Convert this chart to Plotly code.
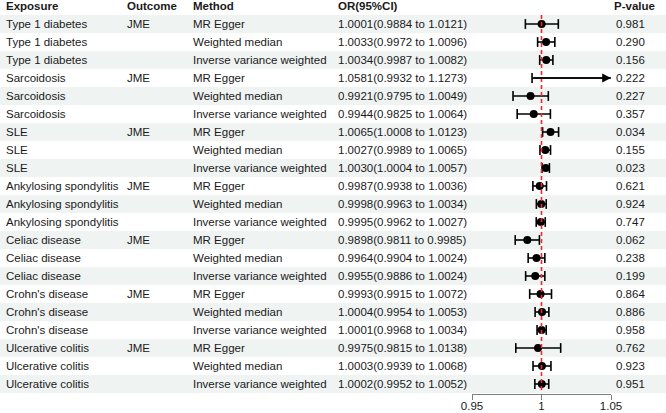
import plotly.graph_objects as go

W, H = 666, 413

exposure = (["Type 1 diabetes"] * 3 + ["Sarcoidosis"] * 3 + ["SLE"] * 3 +
            ["Ankylosing spondylitis"] * 3 + ["Celiac disease"] * 3 +
            ["Crohn's disease"] * 3 + ["Ulcerative colitis"] * 3)
outcome = ["JME", "", ""] * 7
method = ["MR Egger", "Weighted median", "Inverse variance weighted"] * 7
or_val = [1.0001, 1.0033, 1.0034, 1.0581, 0.9921, 0.9944, 1.0065, 1.0027, 1.0030,
          0.9987, 0.9998, 0.9995, 0.9898, 0.9964, 0.9955, 0.9993, 1.0004, 1.0001,
          0.9975, 1.0003, 1.0002]
ci_lo = [0.9884, 0.9972, 0.9987, 0.9932, 0.9795, 0.9825, 1.0008, 0.9989, 1.0004,
         0.9938, 0.9963, 0.9962, 0.9811, 0.9904, 0.9886, 0.9915, 0.9954, 0.9968,
         0.9815, 0.9939, 0.9952]
ci_hi = [1.0121, 1.0096, 1.0082, 1.1273, 1.0049, 1.0064, 1.0123, 1.0065, 1.0057,
         1.0036, 1.0034, 1.0027, 0.9985, 1.0024, 1.0024, 1.0072, 1.0053, 1.0034,
         1.0138, 1.0068, 1.0052]
pval = ["0.981", "0.290", "0.156", "0.222", "0.227", "0.357", "0.034", "0.155",
        "0.023", "0.621", "0.924", "0.747", "0.062", "0.238", "0.199", "0.864",
        "0.886", "0.958", "0.762", "0.923", "0.951"]
headers = ["Exposure", "Outcome", "Method", "OR(95%CI)", "P-value"]
x_ticks = [0.95, 1.0, 1.05]
x_ticktext = ["0.95", "1", "1.05"]
x_min, x_max = 0.95, 1.05

n = len(or_val)
rows = list(range(1, n + 1))
ci_text = [f"{o:.4f}({l:.4f} to {h:.4f})" for o, l, h in zip(or_val, ci_lo, ci_hi)]

FONT = "Liberation Sans, Arial, sans-serif"
FS = 11.5
TXT = "#1a1a1a"

# pixel layout
axis_px = 394
row_px0, row_h = 6, 18
y_top = (0 - row_px0) / row_h
y_bot = (axis_px - row_px0) / row_h
col_px = [4, 125, 191, 336, 612]

fig = go.Figure()

# CI lines (clipped to axis range; arrow for overflow)
lx, ly = [], []
for r, l, h in zip(rows, ci_lo, ci_hi):
    lx += [max(l, x_min), min(h, x_max), None]
    ly += [r, r, None]
fig.add_trace(go.Scatter(x=lx, y=ly, mode="lines",
                         line=dict(color="black", width=1.6),
                         hoverinfo="skip", showlegend=False))

# caps
cx, cy = [], []
for r, l, h in zip(rows, ci_lo, ci_hi):
    if l >= x_min:
        cx.append(l); cy.append(r)
    if h <= x_max:
        cx.append(h); cy.append(r)
fig.add_trace(go.Scatter(x=cx, y=cy, mode="markers",
                         marker=dict(symbol="line-ns", size=7,
                                     line=dict(color="black", width=1.6)),
                         hoverinfo="skip", showlegend=False))

# points
fig.add_trace(go.Scatter(x=or_val, y=rows, mode="markers",
                         marker=dict(symbol="circle", size=8, color="black"),
                         showlegend=False))

shapes = []
# alternating row bands
for r in rows:
    if r % 2 == 1:
        shapes.append(dict(type="rect", xref="paper", yref="y", x0=0, x1=1,
                           y0=r - 0.5, y1=r + 0.5, fillcolor="#eff3f2",
                           line=dict(width=0), layer="below"))
# reference line
shapes.append(dict(type="line", xref="x", yref="y", x0=1, x1=1,
                   y0=0.5, y1=n + 0.5,
                   line=dict(color="#ee2a2a", width=1.6, dash="4px,3px"),
                   layer="above"))

annotations = []
for c, htxt in enumerate(headers):
    annotations.append(dict(x=col_px[c] / W, y=0, xref="paper", yref="y",
                            text=f"<b>{htxt}</b>", showarrow=False,
                            xanchor="left", yanchor="middle",
                            font=dict(family=FONT, size=FS, color=TXT)))
cols = [exposure, outcome, method, ci_text, pval]
for c, col in enumerate(cols):
    for r, t in zip(rows, col):
        if t == "":
            continue
        xp = col_px[c] + (2 if c == 4 else 0)
        annotations.append(dict(x=xp / W, y=r, xref="paper", yref="y",
                                text=t, showarrow=False,
                                xanchor="left", yanchor="middle",
                                font=dict(family=FONT, size=FS, color=TXT)))

# overflow arrows
for r, l, h in zip(rows, ci_lo, ci_hi):
    if h > x_max:
        annotations.append(dict(x=x_max, y=r, xref="x", yref="y",
                                ax=max(l, x_min), ay=r, axref="x", ayref="y",
                                text="", showarrow=True, arrowhead=2,
                                arrowsize=1.1, arrowwidth=1.6,
                                arrowcolor="black", standoff=0))

fig.update_layout(
    width=W, height=H,
    margin=dict(l=0, r=0, t=0, b=0, pad=0, autoexpand=False),
    paper_bgcolor="white", plot_bgcolor="rgba(0,0,0,0)",
    shapes=shapes, annotations=annotations,
    xaxis=dict(domain=[472 / W, 611 / W], range=[x_min, x_max],
               tickvals=x_ticks, ticktext=x_ticktext,
               showline=True, linecolor="#7f7f7f", linewidth=1,
               ticks="outside", ticklen=5, tickcolor="#7f7f7f", tickwidth=1,
               ticklabelstandoff=-4,
               showgrid=False, zeroline=False, anchor="y", automargin=False,
               tickfont=dict(family=FONT, size=FS, color=TXT)),
    yaxis=dict(domain=[(H - axis_px) / H, 1], range=[y_bot, y_top],
               visible=False, showgrid=False, zeroline=False, automargin=False),
)

fig.write_html("out.html")
